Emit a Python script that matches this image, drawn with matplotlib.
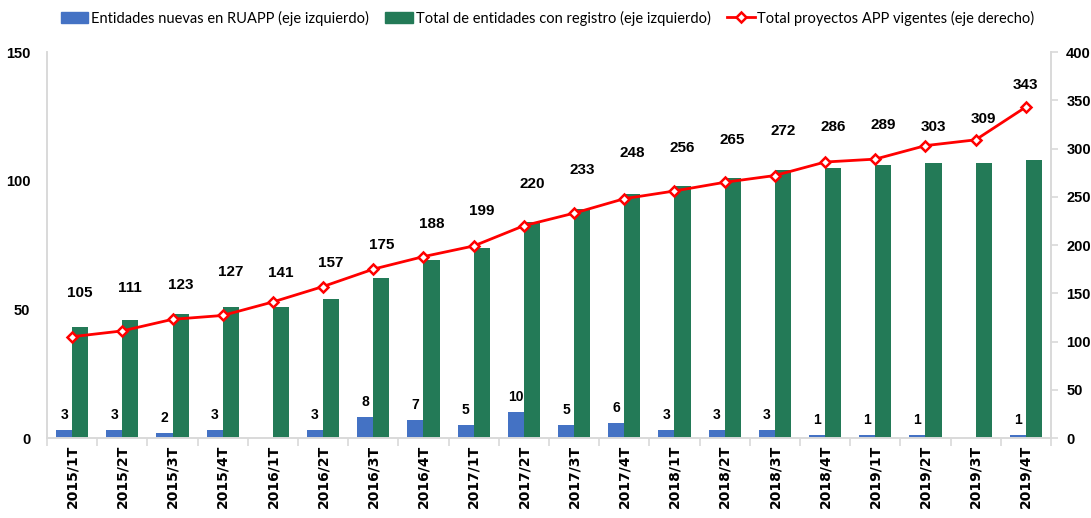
import matplotlib
matplotlib.use("Agg")
import matplotlib.pyplot as plt
import numpy as np
from matplotlib.patches import Patch
from matplotlib.lines import Line2D

categories = ["2015/1T", "2015/2T", "2015/3T", "2015/4T", "2016/1T", "2016/2T",
              "2016/3T", "2016/4T", "2017/1T", "2017/2T", "2017/3T", "2017/4T",
              "2018/1T", "2018/2T", "2018/3T", "2018/4T", "2019/1T", "2019/2T",
              "2019/3T", "2019/4T"]
nuevas = [3, 3, 2, 3, 0, 3, 8, 7, 5, 10, 5, 6, 3, 3, 3, 1, 1, 1, 0, 1]
total_entidades = [43, 46, 48, 51, 51, 54, 62, 69, 74, 84, 89, 95, 98, 101, 104,
                   105, 106, 107, 107, 108]
proyectos = [105, 111, 123, 127, 141, 157, 175, 188, 199, 220, 233, 248, 256, 265,
             272, 286, 289, 303, 309, 343]

# layout: vertical offset (px) of each line label above its marker
label_dy_px = [44, 43, 34, 43, 29, 24, 24, 33, 35, 42, 43, 46, 43, 42, 45, 35, 34, 19, 21, 22]
label_dx_px = [8] * 19 + [0]

NUM = ["Liberation Sans", "DejaVu Sans"]
LEG = ["Lato", "Liberation Sans", "DejaVu Sans"]
BLUE = "#4472C4"
GREEN = "#237A57"
RED = "#FF0000"
GRAY = "#D9D9D9"

fig = plt.figure(figsize=(10.91, 5.18), dpi=100)
ax = fig.add_axes([0.0431, 0.1544, 0.9202, 0.7452])
ax2 = ax.twinx()

x = np.arange(len(categories))
w = 0.32
ax.bar(x - w / 2, nuevas, width=w, color=BLUE, zorder=2)
ax.bar(x + w / 2, total_entidades, width=w, color=GREEN, zorder=2)

ax.set_xlim(-0.5, len(categories) - 0.5)
ax.set_ylim(0, 150)
ax.set_yticks([0, 50, 100, 150])
ax2.set_ylim(0, 400)
ax2.set_yticks(range(0, 401, 50))

ax2.plot(x, proyectos, color=RED, lw=2, marker="D", markersize=5,
         markerfacecolor="white", markeredgecolor=RED, markeredgewidth=1.8, zorder=3)

px = 0.72
for i, v in enumerate(nuevas):
    if v > 0:
        ax.annotate(str(v), (x[i] - w / 2, v), xytext=(0, 15 * px),
                    textcoords="offset points", ha="center", va="center",
                    fontsize=10, fontweight="bold", family=NUM)

for i, v in enumerate(proyectos):
    ax2.annotate(str(v), (x[i], v), xytext=(label_dx_px[i] * px, label_dy_px[i] * px),
                 textcoords="offset points", ha="center", va="center",
                 fontsize=11, fontweight="bold", family=NUM)

# axes styling
for a in (ax, ax2):
    a.spines["top"].set_visible(False)
    for s in ("left", "right", "bottom"):
        a.spines[s].set_color(GRAY)
        a.spines[s].set_linewidth(1.2)

ax.set_xticks(np.arange(-0.5, len(categories), 1.0))
ax.set_xticklabels([])
ax.set_xticks(x, minor=True)
ax.set_xticklabels(categories, minor=True, rotation=90, fontsize=10,
                   fontweight="bold", family="DejaVu Sans")
ax.tick_params(axis="x", which="major", length=6, color=GRAY, width=1.2)
ax.tick_params(axis="x", which="minor", length=0, pad=5)
ax.tick_params(axis="y", length=0, pad=12)
ax2.tick_params(axis="y", length=5, color=GRAY, width=1.2, pad=6)
for lab in ax.get_yticklabels() + ax2.get_yticklabels():
    lab.set_fontweight("bold")
    lab.set_fontsize(10.5)
    lab.set_family(NUM)

handles = [Patch(color=BLUE), Patch(color=GREEN),
           Line2D([0], [0], color=RED, lw=2, marker="D", markersize=5,
                  markerfacecolor="white", markeredgecolor=RED, markeredgewidth=1.8)]
labels = ["Entidades nuevas en RUAPP (eje izquierdo)",
          "Total de entidades con registro (eje izquierdo)",
          "Total proyectos APP vigentes (eje derecho)"]
fig.legend(handles, labels, loc="center", bbox_to_anchor=(0.502, 0.965), ncol=3,
           frameon=False, prop={"family": LEG, "size": 10.5},
           handlelength=1.9, handleheight=0.8, handletextpad=0.2, columnspacing=1.1)

fig.savefig("out.png", dpi=100)
